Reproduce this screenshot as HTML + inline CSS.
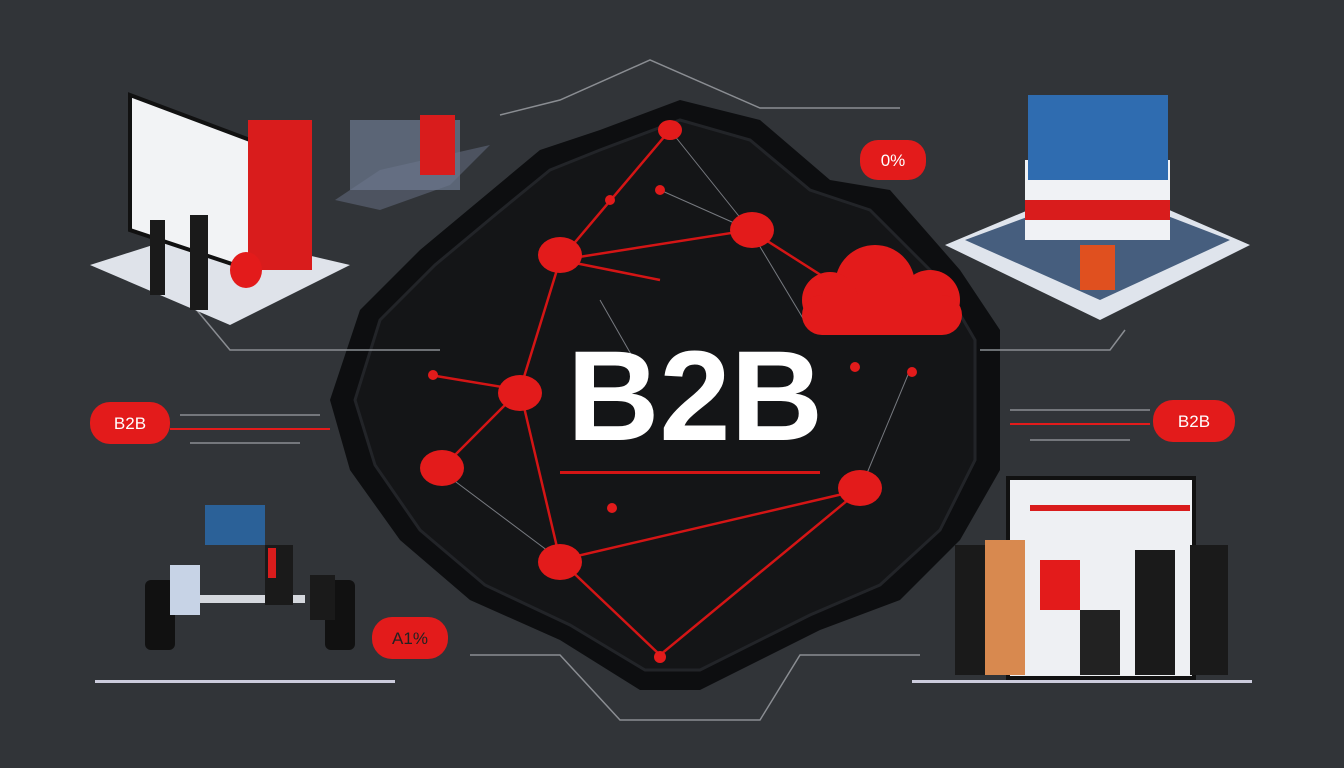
<!DOCTYPE html>
<html><head><meta charset="utf-8"><style>
html,body{margin:0;padding:0;background:#303337;}
svg{display:block}
</style></head><body>
<svg width="1344" height="768" viewBox="0 0 1344 768" xmlns="http://www.w3.org/2000/svg">
<rect width="1344" height="768" fill="#313438"/>
<!-- central black shape -->
<polygon points="600,130 680,100 760,120 830,180 890,190 960,270 1000,330 1000,470 960,540 900,600 820,630 700,690 640,690 560,640 470,600 400,540 350,470 330,400 360,310 420,250 480,200 540,150" fill="#0d0e10"/>
<polygon points="600,150 680,120 750,140 810,190 870,210 940,280 975,340 975,460 940,530 880,585 810,615 700,670 645,670 570,625 485,585 420,530 375,465 355,400 380,320 435,265 495,215 550,170" fill="#141517" stroke="#222428" stroke-width="3"/>
<!-- connectors outside -->
<g stroke="#8a8d92" stroke-width="1.5" fill="none">
<path d="M500,115 L560,100 L650,60 L760,108 L900,108"/>
<path d="M180,290 L230,350 L440,350"/>
<path d="M980,350 L1110,350 L1125,330"/>
<path d="M180,415 L320,415"/><path d="M190,443 L300,443"/>
<path d="M1010,410 L1150,410"/><path d="M1030,440 L1130,440"/>
<path d="M470,655 L560,655 L620,720 L760,720 L800,655 L920,655"/>
</g>
<g stroke="#e31b1b" stroke-width="2" fill="none">
<path d="M170,429 L330,429"/><path d="M1010,424 L1150,424"/>
</g>
<!-- network lines -->
<g stroke="#d41515" stroke-width="2.5" fill="none">
<path d="M670,130 L560,260 L520,390 L440,470"/>
<path d="M560,260 L750,230 L860,300"/>
<path d="M520,390 L560,560 L860,490"/>
<path d="M560,560 L660,655 L860,490"/>
<path d="M560,260 L660,280"/><path d="M430,375 L520,390"/>
</g>
<g stroke="#777a80" stroke-width="1" fill="none">
<path d="M670,130 L750,230"/><path d="M750,230 L810,330"/><path d="M440,470 L560,560"/>
<path d="M860,490 L910,370"/><path d="M660,190 L750,230"/><path d="M600,300 L640,370"/>
</g>
<!-- nodes -->
<g fill="#e31b1b">
<ellipse cx="670" cy="130" rx="12" ry="10"/>
<ellipse cx="560" cy="255" rx="22" ry="18"/>
<ellipse cx="752" cy="230" rx="22" ry="18"/>
<ellipse cx="520" cy="393" rx="22" ry="18"/>
<ellipse cx="442" cy="468" rx="22" ry="18"/>
<ellipse cx="560" cy="562" rx="22" ry="18"/>
<ellipse cx="860" cy="488" rx="22" ry="18"/>
<circle cx="660" cy="657" r="6"/><circle cx="660" cy="190" r="5"/><circle cx="433" cy="375" r="5"/>
<circle cx="612" cy="508" r="5"/><circle cx="855" cy="367" r="5"/><circle cx="912" cy="372" r="5"/><circle cx="610" cy="200" r="5"/>
</g>
<!-- cloud -->
<g fill="#e31b1b">
<circle cx="875" cy="285" r="40"/><circle cx="830" cy="300" r="28"/><circle cx="930" cy="300" r="30"/>
<rect x="802" y="295" width="160" height="40" rx="20"/>
</g>
<text x="695" y="440" text-anchor="middle" font-family="Liberation Sans, sans-serif" font-weight="bold" font-size="128" fill="#ffffff">B2B</text>
<rect x="560" y="471" width="260" height="3" fill="#d41515"/>
<!-- pills -->
<g font-family="Liberation Sans, sans-serif" font-size="17" fill="#fff" text-anchor="middle">
<rect x="860" y="140" width="66" height="40" rx="18" fill="#e31b1b"/><text x="893" y="166">0%</text>
<rect x="90" y="402" width="80" height="42" rx="20" fill="#e31b1b"/><text x="130" y="429">B2B</text>
<rect x="1153" y="400" width="82" height="42" rx="20" fill="#e31b1b"/><text x="1194" y="427">B2B</text>
<rect x="372" y="617" width="76" height="42" rx="20" fill="#e31b1b"/><text x="410" y="644" fill="#222">A1%</text>
</g>
<!-- top-left scene -->
<polygon points="90,265 200,230 350,265 230,325" fill="#dfe3ea"/>
<polygon points="130,95 250,140 250,270 130,230" fill="#f2f3f5" stroke="#111" stroke-width="4"/>
<rect x="248" y="120" width="64" height="150" fill="#d91c1c"/>
<ellipse cx="246" cy="270" rx="16" ry="18" fill="#e31b1b"/>
<rect x="150" y="220" width="15" height="75" fill="#1a1a1a"/><rect x="190" y="215" width="18" height="95" fill="#1a1a1a"/>
<polygon points="335,200 380,170 490,145 450,185 380,210" fill="#4d5360"/>
<rect x="350" y="120" width="110" height="70" fill="#6e7b91" opacity=".7"/>
<rect x="420" y="115" width="35" height="60" fill="#d91c1c"/>
<!-- top-right scene -->
<polygon points="945,245 1100,180 1250,245 1100,320" fill="#dfe4ec"/>
<polygon points="965,240 1100,190 1230,240 1100,300" fill="#465e7e"/>
<rect x="1025" y="160" width="145" height="80" fill="#f0f2f5"/>
<rect x="1028" y="95" width="140" height="85" fill="#2f6cb0"/>
<rect x="1025" y="200" width="145" height="20" fill="#d91c1c"/>
<rect x="1080" y="245" width="35" height="45" fill="#e0501f"/>
<!-- bottom-left scene -->
<rect x="95" y="680" width="300" height="3" fill="#ccd"/>
<rect x="195" y="595" width="110" height="8" fill="#d5d8de"/>
<rect x="145" y="580" width="30" height="70" fill="#111" rx="6"/>
<rect x="325" y="580" width="30" height="70" fill="#111" rx="6"/>
<rect x="170" y="565" width="30" height="50" fill="#c7d3e6"/>
<rect x="265" y="545" width="28" height="60" fill="#1a1a1a"/><rect x="268" y="548" width="8" height="30" fill="#d91c1c"/>
<rect x="310" y="575" width="25" height="45" fill="#1a1a1a"/>
<rect x="205" y="505" width="60" height="40" fill="#2a6db0" opacity=".8"/>
<!-- bottom-right scene -->
<rect x="912" y="680" width="340" height="3" fill="#ccd"/>
<rect x="1008" y="478" width="186" height="200" fill="#eef0f3" stroke="#111" stroke-width="4"/>
<rect x="1030" y="505" width="160" height="6" fill="#d91c1c"/>
<rect x="955" y="545" width="30" height="130" fill="#1a1a1a"/>
<rect x="985" y="540" width="40" height="135" fill="#d8894f"/>
<rect x="1040" y="560" width="40" height="50" fill="#e31b1b"/>
<rect x="1135" y="550" width="40" height="125" fill="#1a1a1a"/>
<rect x="1190" y="545" width="38" height="130" fill="#1a1a1a"/>
<rect x="1080" y="610" width="40" height="65" fill="#222"/>
</svg>
</body></html>
